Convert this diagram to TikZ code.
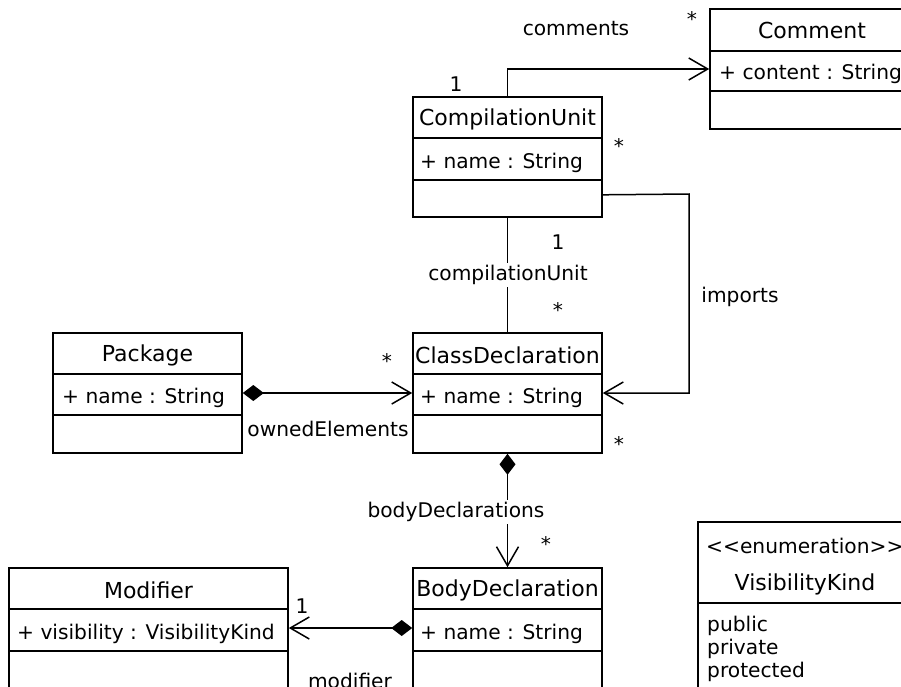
\documentclass[tikz,border=0pt]{standalone}
\usepackage{fontspec}
\setmainfont{DejaVu Sans}
\usetikzlibrary{arrows.meta,calc}
\begin{document}
\begin{tikzpicture}[x=1pt,y=-1pt,
  font=\fontsize{20.2}{23}\selectfont,
  box/.style={draw, line width=1.6pt, inner sep=0pt, minimum width=#1},
  box/.default=189pt,
  sep/.style={line width=1.6pt},
  txt/.style={inner sep=0pt, anchor=center, font=\fontsize{22}{24}\selectfont},
  attr/.style={inner sep=0pt, anchor=west},
  lbl/.style={inner sep=2pt, fill=white},
  assoc/.style={line width=1.5pt, -{Straight Barb[length=19pt,width=22pt,line width=1.5pt]}},
  comp/.style={line width=1.5pt, {Diamond[length=21pt,width=16pt]}-{Straight Barb[length=19pt,width=22pt,line width=1.5pt]}},
  mult/.style={inner sep=0pt}
]
\useasboundingbox (0,0) rectangle (901,686);
\clip (0,0) rectangle (901,686);

% CompilationUnit
\node[box, minimum height=120pt] (cu) at (507.5,157) {};
\draw[sep] ([yshift=-42pt]cu.north west) -- ([yshift=-42pt]cu.north east);
\draw[sep] ([yshift=-84pt]cu.north west) -- ([yshift=-84pt]cu.north east);
\node[txt] (cuname) at (507.5,119) {CompilationUnit};
\node[attr] (cuattr) at (420,163) {+ name : String};

% Comment
\node[box=210pt, minimum height=120pt] (com) at (815,69) {};
\draw[sep] ([yshift=-43pt]com.north west) -- ([yshift=-43pt]com.north east);
\draw[sep] ([yshift=-83pt]com.north west) -- ([yshift=-83pt]com.north east);
\node[txt] (comname) at (812,30) {Comment};
\node[attr] (comattr) at (719,74) {+ content : String};

% ClassDeclaration
\node[box, minimum height=120pt] (cd) at (507.5,393) {};
\draw[sep] ([yshift=-42pt]cd.north west) -- ([yshift=-42pt]cd.north east);
\draw[sep] ([yshift=-83pt]cd.north west) -- ([yshift=-83pt]cd.north east);
\node[txt] (cdname) at (507.5,355) {ClassDeclaration};
\node[attr] (cdattr) at (420,398) {+ name : String};

% Package
\node[box, minimum height=120pt] (pk) at (147.5,393) {};
\draw[sep] ([yshift=-42pt]pk.north west) -- ([yshift=-42pt]pk.north east);
\draw[sep] ([yshift=-83pt]pk.north west) -- ([yshift=-83pt]pk.north east);
\node[txt] (pkname) at (147.5,355) {Package};
\node[attr] (pkattr) at (62,398) {+ name : String};

% BodyDeclaration
\node[box, minimum height=120pt] (bd) at (507.5,628) {};
\draw[sep] ([yshift=-42pt]bd.north west) -- ([yshift=-42pt]bd.north east);
\draw[sep] ([yshift=-84pt]bd.north west) -- ([yshift=-84pt]bd.north east);
\node[txt] (bdname) at (507.5,590) {BodyDeclaration};
\node[attr] (bdattr) at (420,634) {+ name : String};

% Modifier
\node[box=279pt, minimum height=120pt] (md) at (148.5,628) {};
\draw[sep] ([yshift=-42pt]md.north west) -- ([yshift=-42pt]md.north east);
\draw[sep] ([yshift=-84pt]md.north west) -- ([yshift=-84pt]md.north east);
\node[txt] (mdname) at (148.5,590) {Modifier};
\node[attr] (mdattr) at (17,634) {+ visibility : VisibilityKind};

% VisibilityKind
\node[box=214pt, minimum height=190pt] (vk) at (805,617) {};
\draw[sep] ([yshift=-82pt]vk.north west) -- ([yshift=-82pt]vk.north east);
\node[attr] (vkst) at (706,546) {<{}<enumeration>{}>};
\node[txt] (vkname) at (805,584) {VisibilityKind};
\node[attr] (vk1) at (707,626) {public};
\node[attr] (vk2) at (707,649) {private};
\node[attr] (vk3) at (707,672) {protected};

% comments association
\coordinate (cutop) at (cu.north);
\draw[assoc] (cutop) |- (com.west);
\node[mult] (c1) at (456,84) {1};
\node[mult] (clbl) at (576,29) {comments};
\node[mult] (cstar) at (692,19) {*};

% imports
\coordinate (imp1) at ($(cu.south east)+(0,-23)$);
\coordinate (imp2) at (689,194);
\draw[assoc] (imp1) -- (imp2) |- (cd.east);
\node[mult] (i1) at (619,146) {*};
\node[mult] (ilbl) at (740,297) {imports};
\node[mult] (i2) at (619,444) {*};

% compilationUnit
\draw[line width=1.5pt] (cu.south) -- (cd.north);
\node[lbl] (culbl) at (508,275) {compilationUnit};
\node[mult] (cu1) at (558,242) {1};
\node[mult] (cu2) at (558,310) {*};

% ownedElements
\draw[comp] (pk.east) -- (cd.west);
\node[mult] (oelbl) at (328,429) {ownedElements};
\node[mult] (oe1) at (387,361) {*};

% bodyDeclarations
\draw[comp] (cd.south) -- (bd.north);
\node[lbl] (bdlbl) at (456,512) {bodyDeclarations};
\node[mult] (bd1) at (546,544) {*};

% modifier
\draw[comp] (bd.west) -- (md.east);
\node[mult] (mlbl) at (350,681) {modifier};
\node[mult] (m1) at (302,606) {1};
\end{tikzpicture}
\end{document}
